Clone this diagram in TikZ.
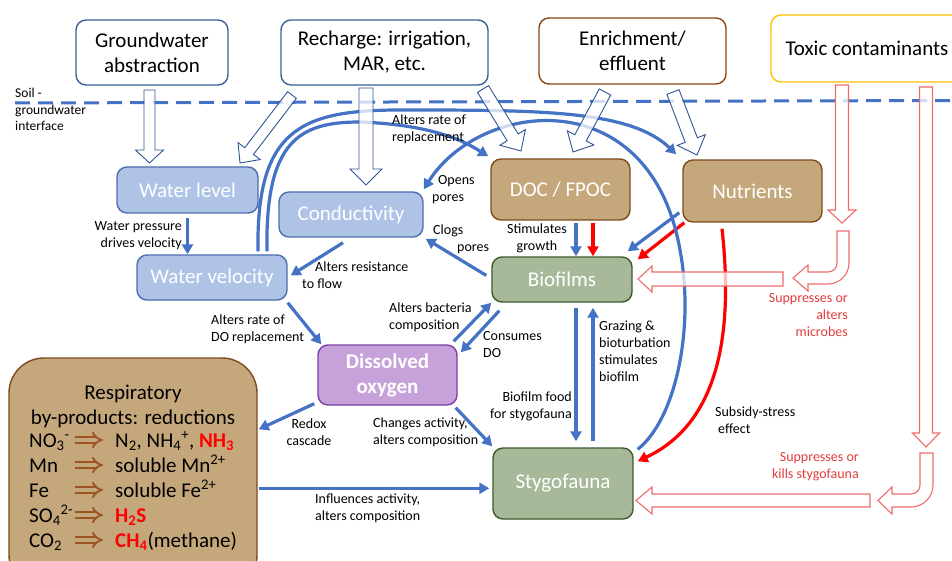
\documentclass[tikz,border=0pt]{standalone}
\usepackage{fontspec}
\setmainfont{Carlito}
\usetikzlibrary{arrows.meta,calc}
\definecolor{ablue}{HTML}{4472C4}
\definecolor{topblue}{HTML}{3A5F99}
\definecolor{lbfill}{HTML}{AFC3E6}
\definecolor{lbdraw}{HTML}{4A6EAE}
\definecolor{tanfill}{HTML}{C4A87B}
\definecolor{tandraw}{HTML}{7E4A1E}
\definecolor{grfill}{HTML}{A8B99A}
\definecolor{grdraw}{HTML}{3B5A2C}
\definecolor{pufill}{HTML}{C7A2DA}
\definecolor{pudraw}{HTML}{7B3FA5}
\definecolor{enrdraw}{HTML}{8B4513}
\definecolor{toxdraw}{HTML}{FFC000}
\definecolor{hbdraw}{HTML}{2F5597}
\definecolor{hrdraw}{HTML}{EE6C6C}
\definecolor{redtxt}{HTML}{E23C3C}
\definecolor{brnarrow}{HTML}{9C5522}
\definecolor{brightred}{HTML}{FF0000}
\newcommand{\hollowarr}[8]{%
 \pgfmathsetmacro{\hdx}{#4-#2}%
 \pgfmathsetmacro{\hdy}{#5-#3}%
 \pgfmathsetmacro{\hang}{atan2(-\hdy,\hdx)}%
 \pgfmathsetmacro{\hlen}{veclen(\hdx,\hdy)}%
 \pgfmathsetmacro{\hbase}{\hlen-#8}%
 \begin{scope}[shift={(#2,#3)}, rotate=\hang]
 \path[#1] (0,-#6) -- (\hbase,-#6) -- (\hbase,-#7) -- (\hlen,0) -- (\hbase,#7) -- (\hbase,#6) -- (0,#6) -- cycle;
 \end{scope}}
\begin{document}
\begin{tikzpicture}[x=1pt,y=-1pt,
 box/.style={rounded corners=10pt, inner sep=0pt, align=center, font=\fontsize{21}{25}\selectfont, line width=1.4pt},
 topbox/.style={box, draw=topblue, fill=white, text=black},
 bluebox/.style={box, draw=lbdraw, fill=lbfill, text=white},
 tanbox/.style={box, draw=tandraw, fill=tanfill, text=white},
 greenbox/.style={box, draw=grdraw, fill=grfill, text=white},
 purplebox/.style={box, draw=pudraw, fill=pufill, text=white},
 lbl/.style={inner sep=0pt, font=\fontsize{14}{17}\selectfont, text=black},
 redlbl/.style={lbl, text=redtxt},
 resptxt/.style={inner sep=0pt, font=\fontsize{21}{25}\selectfont, text=black},
 barrow/.style={draw=ablue, line width=3.2pt, -{Triangle[length=10pt,width=11pt]}},
 rarrow/.style={draw=brightred, line width=3.2pt, -{Triangle[length=10pt,width=11pt]}},
 hollowblue/.style={draw=hbdraw, line width=0.9pt, fill=white, fill opacity=0.75, line join=miter},
 hollowred/.style={draw=hrdraw, line width=1.1pt, fill=white, fill opacity=0.75, line join=miter},
 dashline/.style={draw=ablue, line width=3pt, dash pattern=on 15pt off 8pt},
 implarrow/.style={draw=brnarrow, double=tanfill, double distance=3.5pt, line width=1.9pt, -{Implies}}
]
\useasboundingbox (0,0) rectangle (952,561);
\clip (0,0) rectangle (952,561);

% ---------- boxes ----------
\node[topbox, minimum width=152pt, minimum height=65pt] (gwa) at (152,52.5) {Groundwater\\abstraction};
\node[topbox, minimum width=207pt, minimum height=65pt] (rech) at (384.5,52.5) {Recharge: irrigation,\\MAR, etc.};
\node[topbox, draw=enrdraw, minimum width=187pt, minimum height=66pt] (enr) at (632.5,51) {Enrichment/\\effluent};
\node[topbox, draw=toxdraw, minimum width=192pt, minimum height=67pt] (tox) at (867,48.5) {Toxic contaminants};

\node[bluebox, minimum width=141pt, minimum height=46pt] (wl) at (187.5,190) {Water level};
\node[bluebox, minimum width=150pt, minimum height=45pt] (wv) at (212,277.5) {Water velocity};
\node[bluebox, minimum width=144pt, minimum height=45pt] (cond) at (351,214.5) {Conductivity};
\node[tanbox, minimum width=139pt, minimum height=61pt] (doc) at (560.5,189.5) {DOC / FPOC};
\node[tanbox, minimum width=139pt, minimum height=62pt] (nut) at (752.5,191) {Nutrients};
\node[greenbox, minimum width=140pt, minimum height=45pt] (bio) at (562,279.5) {Biofilms};
\node[purplebox, minimum width=139pt, minimum height=60pt, font=\fontsize{21}{25}\selectfont\bfseries] (dox) at (387.5,375) {Dissolved\\oxygen};
\node[greenbox, minimum width=140pt, minimum height=71pt] (sty) at (563,483.5) {Stygofauna};
\node[tanbox, rounded corners=35pt, minimum width=248pt, minimum height=232pt] (resp) at (133,474) {};

% ---------- respiratory contents ----------
\node[resptxt, anchor=base] (r1) at (133,399) {Respiratory};
\node[resptxt, anchor=base] (r2) at (133,424) {by-products: reductions};
\node[resptxt, anchor=base west] (ra1) at (29,447) {NO\textsubscript{3}\textsuperscript{-}};
\node[resptxt, anchor=base west] (rb1) at (115,447) {N\textsubscript{2}, NH\textsubscript{4}\textsuperscript{+}, \textcolor{brightred}{\bfseries NH\textsubscript{3}}};
\node[resptxt, anchor=base west] (ra2) at (29,472) {Mn};
\node[resptxt, anchor=base west] (rb2) at (115,472) {soluble Mn\textsuperscript{2+}};
\node[resptxt, anchor=base west] (ra3) at (29,497) {Fe};
\node[resptxt, anchor=base west] (rb3) at (115,497) {soluble Fe\textsuperscript{2+}};
\node[resptxt, anchor=base west] (ra4) at (29,522) {SO\textsubscript{4}\textsuperscript{2-}};
\node[resptxt, anchor=base west] (rb4) at (115,522) {\textcolor{brightred}{\bfseries H\textsubscript{2}S}};
\node[resptxt, anchor=base west] (ra5) at (29,547) {CO\textsubscript{2}};
\node[resptxt, anchor=base west] (rb5) at (115,547) {\textcolor{brightred}{\bfseries CH\textsubscript{4}}(methane)};
\foreach \yy in {440,465,490,515,540}{\draw[implarrow] (75,\yy) -- (103,\yy);}

% ---------- soil interface ----------
\draw[dashline] (15,103) -- (952,100.5);

% ---------- straight blue arrows ----------
\draw[barrow] ([yshift=-4pt]wl.south) -- (wl.south |- wv.north);
\draw[barrow] ([shift={(-8,5)}]cond.south) -- ([shift={(3,-2)}]wv.east);
\draw[barrow] ([shift={(0,2)}]wv.south east) -- ([shift={(4,0)}]dox.north west);
\draw[barrow] ([shift={(-5,-4)}]bio.west) -- ([shift={(2,1)}]cond.south east);
\coordinate (e1s) at ([shift={(15.5,2)}]doc.south);
\coordinate (e2s) at ([shift={(32.5,2)}]doc.south);
\draw[barrow] (e1s) -- (e1s |- bio.north);
\draw[rarrow] (e2s) -- (e2s |- bio.north);
\draw[barrow] ([shift={(-3,-10)}]nut.south west) -- ([shift={(-5,-5)}]bio.north east);
\draw[rarrow] ([shift={(2,0)}]nut.south west) -- ([shift={(5,3)}]bio.north east);
\draw[barrow] ([shift={(-4,-3)}]dox.north east) -- (bio.south west);
\draw[barrow] ([shift={(8,8)}]bio.south west) -- ([shift={(3,8)}]dox.north east);
\coordinate (h1s) at ([shift={(14,5)}]bio.south);
\coordinate (h2s) at ([shift={(30,-6)}]sty.north);
\draw[barrow, shorten >=6pt] (h1s) -- (h1s |- sty.north);
\draw[barrow, shorten >=5pt] (h2s) -- (h2s |- bio.south);
\draw[barrow] ([shift={(-3,-2)}]dox.south west) -- ([shift={(1,72)}]resp.north east);
\draw[barrow] ([shift={(-2,2)}]dox.south east) -- ([shift={(0,-1)}]sty.north west);
\coordinate (ks) at ([shift={(1,131)}]resp.north east);
\draw[barrow, shorten >=3pt] (ks) -- (ks -| sty.west);

% ---------- curved arrows ----------
\draw[barrow] ([shift={(46,-3)}]wv.north) .. controls (256,130) and (300,110) .. (400,110)
  .. controls (540,110) and (630,110) .. ([shift={(-6,-5)}]nut.north west);
\draw[barrow] ([shift={(55,-3)}]wv.north) .. controls (265,140) and (300,122) .. (360,122)
  .. controls (440,125) and (470,145) .. ([shift={(-2,-2)}]doc.north west);
\draw[barrow] ([shift={(4,2)}]sty.north east) .. controls (675,420) and (695,330) .. (680,250)
  .. controls (650,80) and (480,100) .. ([shift={(0,-2)}]cond.north east);
\draw[rarrow] ([shift={(-30.5,6)}]nut.south) .. controls (732,320) and (725,420) .. ([shift={(4,14)}]sty.north east);

% ---------- hollow block arrows ----------
\hollowarr{hollowblue}{149.5}{90}{149.5}{163}{5.5}{14}{13}
\hollowarr{hollowblue}{292}{95}{240}{163}{5.5}{14}{15}
\hollowarr{hollowblue}{366}{88}{366}{185}{7}{16}{16}
\hollowarr{hollowblue}{483}{89}{521}{151}{6.5}{15}{16}
\hollowarr{hollowblue}{605}{92}{573}{152}{6.5}{15}{16}
\hollowarr{hollowblue}{673}{92}{697}{155}{6.5}{15}{16}

\hollowarr{hollowred}{842}{85}{842}{223}{6.5}{14}{13}
\hollowarr{hollowred}{926}{87}{926}{447}{6.5}{13.5}{14}
\hollowarr{hollowred}{783}{279}{638}{279}{7}{13}{14}
\hollowarr{hollowred}{870}{500.5}{636}{500.5}{6.5}{13.5}{16}
\path[hollowred] (837,231) -- (849,231) -- (849,263) arc[start angle=0, end angle=-90, radius=21pt]
  -- (808,284) -- (808,291) -- (793,278) -- (808,265) -- (808,272) -- (828,272)
  arc[start angle=-90, end angle=0, radius=9pt] -- cycle;
\path[hollowred] (920,453) -- (933,453) -- (933,485) arc[start angle=0, end angle=-90, radius=22pt]
  -- (892,507) -- (892,514) -- (878,500.5) -- (892,487) -- (892,494) -- (911,494)
  arc[start angle=-90, end angle=0, radius=9pt] -- cycle;

% ---------- labels ----------
\node[lbl, font=\fontsize{13.5}{16.5}\selectfont, anchor=west, align=left] (soil) at (15,109.5) {Soil -\\groundwater\\interface};
\node[lbl, anchor=east, align=right] (l1) at (182,235.5) {Water pressure\\drives velocity};
\node[lbl, anchor=west, align=left] (l2) at (302,275.5) {\hspace*{13pt}Alters resistance\\to flow};
\node[lbl, anchor=west, align=left] (l3) at (211,329.5) {Alters rate of\\DO replacement};
\node[lbl, anchor=west, align=left] (l4) at (433,239) {Clogs\\\hspace*{24pt}pores};
\node[lbl, anchor=west, align=left] (l5) at (432,190) {\hspace*{6pt}Opens\\pores};
\node[lbl, anchor=west, align=left] (l6) at (392,129) {Alters rate of\\replacement};
\node[lbl, align=center] (l7) at (537,238) {Stimulates\\growth};
\node[lbl, anchor=west, align=left] (l8) at (389,317.5) {Alters bacteria\\composition};
\node[lbl, anchor=west, align=left] (l9) at (483,345) {Consumes\\DO};
\node[lbl, anchor=west, align=left] (l10) at (599,351.5) {Grazing \&\\bioturbation\\stimulates\\biofilm};
\node[lbl, anchor=east, align=right] (l11) at (572,406.5) {Biofilm food\\for stygofauna};
\node[lbl, align=center] (l12) at (309,432.5) {Redox\\cascade};
\node[lbl, anchor=west, align=left] (l13) at (373,432.5) {Changes activity,\\alters composition};
\node[lbl, anchor=west, align=left] (l14) at (315,508.5) {Influences activity,\\alters composition};
\node[lbl, anchor=west, align=left] (l15) at (715,420) {Subsidy-stress\\\hspace*{3pt}effect};
\node[redlbl, anchor=east, align=right] (l16) at (848,315) {Suppresses or\\alters\\microbes};
\node[redlbl, anchor=east, align=right] (l17) at (859,466.5) {Suppresses or\\kills stygofauna};
\end{tikzpicture}
\end{document}
